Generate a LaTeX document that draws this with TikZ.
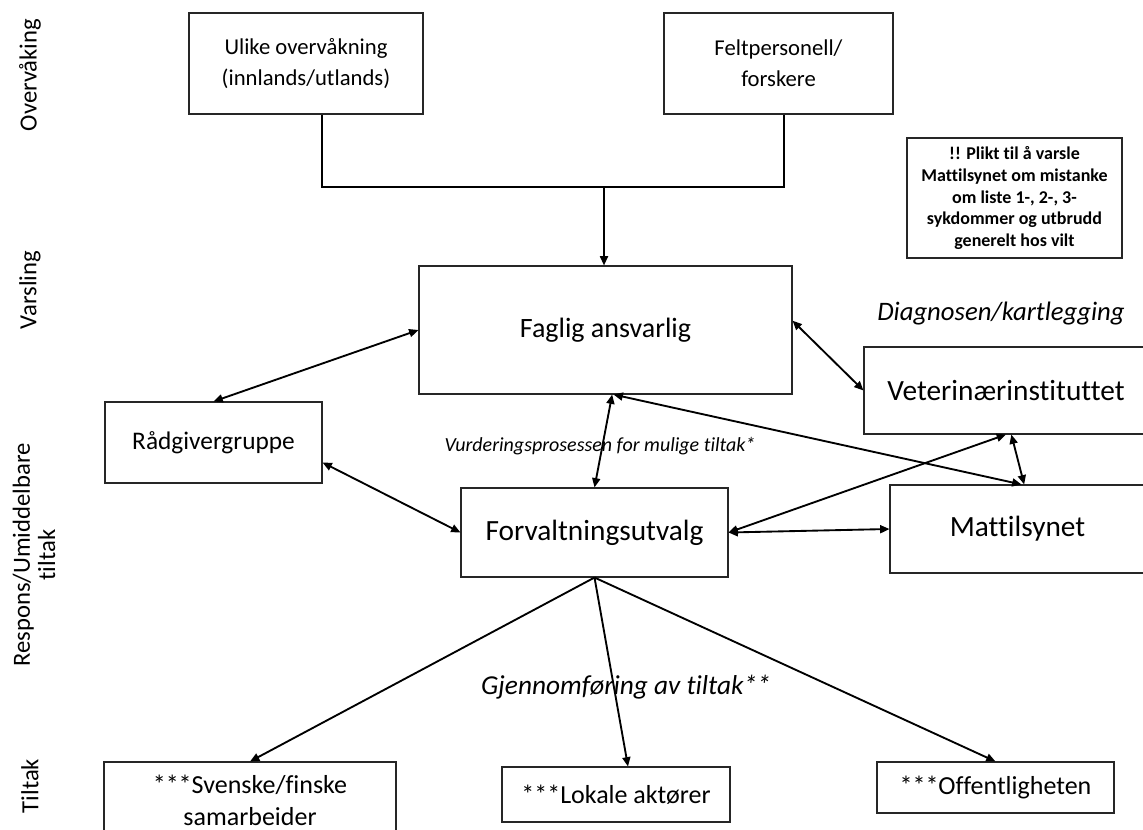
\documentclass[tikz,border=0pt]{standalone}
\usepackage{fontspec}
\setmainfont{Carlito}[Ligatures=NoCommon]
\usetikzlibrary{arrows.meta}
\tikzset{
	link/.style={line width=1.4pt, black},
	arrow/.style={link, -{Triangle[length=7pt, width=6pt]}},
	twoway/.style={link, {Triangle[length=7pt, width=6pt]}-{Triangle[length=7pt, width=6pt]}}
}

\begin{document}
\begin{tikzpicture}[
		x=0.75pt, y=-0.75pt,
		box/.style={
			draw=black!85,
			line width=0.8pt,
			align=center,
			inner sep=2pt
		},
		bigtext/.style={font=\fontsize{22}{26}\selectfont},
		toptext/.style={font=\fontsize{17}{23}\selectfont},
		bottext/.style={font=\fontsize{19.5}{24}\selectfont},
		note/.style={font=\bfseries\fontsize{13.5}{16.2}\selectfont},
		phase/.style={font=\itshape},
		level/.style={rotate=90, align=center, font=\fontsize{18.5}{19}\selectfont}
		]
		
		\useasboundingbox (0,0) rectangle (1143,829);
		
		% levels on the left
		\node[level] (lvlover) at (30,75) {Overvåking};
		\node[level] (lvlvars) at (30,290) {Varsling};
		\node[level] (lvlresp) at (34,555) {Respons/Umiddelbare\\tiltak};
		\node[level] (lvltilt) at (30,786) {Tiltak};
		
		% surveillance
		\node[box, toptext, minimum width=175.5pt, minimum height=75.75pt] (ulike) at (306,63.5) {Ulike overvåkning\\(innlands/utlands)};
		\node[box, toptext, minimum width=171.75pt, minimum height=75.75pt] (felt) at (778.5,63.5) {Feltpersonell/\\forskere};
		\node[box, note, minimum width=161.25pt, minimum height=90pt] (plikt) at (1014.5,198) {!! Plikt til å varsle\\Mattilsynet om mistanke\\om liste 1-, 2-, 3-\\sykdommer og utbrudd\\generelt hos vilt};
		
		% response
		\node[box, font=\fontsize{21}{25}\selectfont, minimum width=279.75pt, minimum height=96pt] (faglig) at (605.5,330) {Faglig ansvarlig};
		\node[box, bigtext, minimum width=213pt, minimum height=65.25pt] (vet) at (1006,390.5) {Veterinærinstituttet};
		\node[box, font=\fontsize{19}{23}\selectfont, minimum width=162.75pt, minimum height=60.75pt] (rad) at (213.5,442.5) {Rådgivergruppe};
		\node[box, bigtext, minimum width=200.25pt, minimum height=66.75pt] (forv) at (594.5,532.5) {Forvaltningsutvalg};
		\node[box, bigtext, minimum width=191.25pt, minimum height=66pt] (matt) at (1017.5,529) {Mattilsynet};
		
		% measures
		\node[box, bottext, minimum width=219pt, minimum height=57pt] (svensk) at (250,800) {***Svenske/finske\\samarbeider};
		\node[box, bottext, minimum width=171pt, minimum height=41.25pt] (lokal) at (616,794.5) {***Lokale aktører};
		\node[box, bottext, minimum width=177.75pt, minimum height=38.25pt] (offent) at (995.5,787.5) {***Offentligheten};
		
		% process labels
		\node[phase, font=\itshape\fontsize{20}{23}\selectfont] (diag) at (1001,314) {Diagnosen/kartlegging};
		\node[phase, font=\itshape\fontsize{15}{18}\selectfont] (vurd) at (600,446) {Vurderingsprosessen for mulige tiltak*};
		\node[phase, font=\itshape\fontsize{20.5}{24}\selectfont] (gjen) at (626,687) {Gjennomføring av tiltak**};
		
		% reporting
		\coordinate (join) at (604,187);
		\draw[link] ([xshift=12pt]ulike.south) |- (join) -| ([xshift=4pt]felt.south);
		\draw[arrow] (join) -- (join |- faglig.north);
		
		\draw[twoway] (faglig.west) -- (rad.north);
		\draw[twoway] ([yshift=-15pt]rad.east) -- (forv.west);
		\draw[twoway] ([xshift=5pt]faglig.south) -- (forv.north);
		\draw[twoway] ([yshift=7pt]faglig.east) -- (vet.west);
		\draw[twoway] ([xshift=6pt]faglig.south) -- ([xshift=3pt]matt.north);
		\draw[twoway] (forv.east) -- (vet.south);
		\draw[twoway] (forv.east) -- (matt.west);
		\draw[twoway] ([xshift=4pt]vet.south) -- ([xshift=5pt]matt.north);
		
		\draw[arrow] (forv.south) -- (svensk.north);
		\draw[arrow] (forv.south) -- ([xshift=9pt]lokal.north);
		\draw[arrow] (forv.south) -- (offent.north);
		
	\end{tikzpicture}
\end{document}
